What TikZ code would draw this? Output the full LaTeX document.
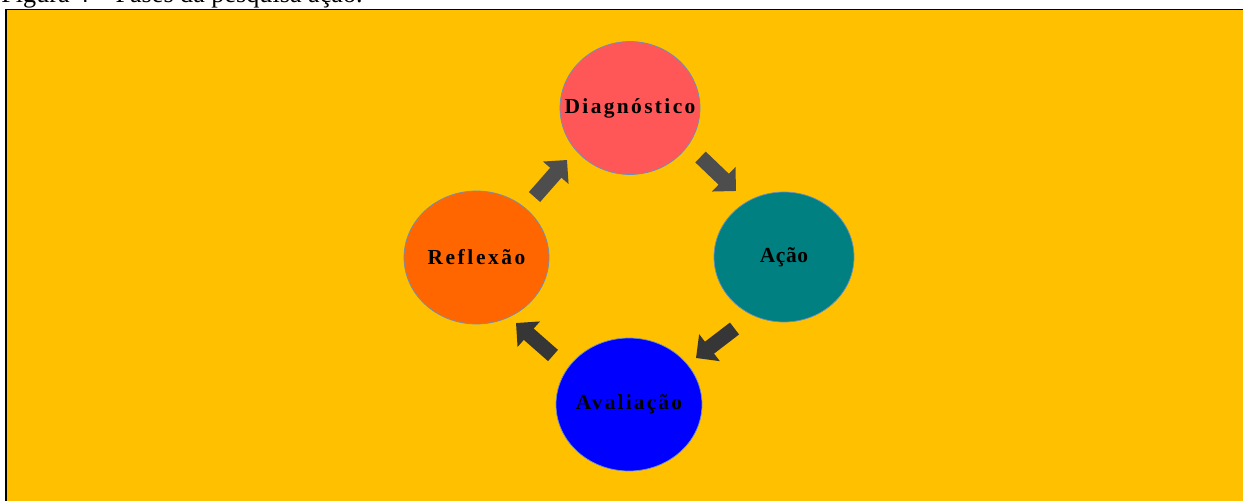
\documentclass[tikz,border=0pt]{standalone}
\usepackage{fontspec}
\setmainfont{Liberation Serif}
\usetikzlibrary{shapes.geometric,arrows.meta}

\definecolor{bgorange}{RGB}{255,192,0}
\definecolor{edgeblue}{RGB}{108,142,191}
\definecolor{diagred}{RGB}{255,87,87}
\definecolor{reflorange}{RGB}{255,102,0}
\definecolor{acaoteal}{RGB}{0,128,128}
\definecolor{avalblue}{RGB}{0,0,255}
\definecolor{arrowgray}{RGB}{77,77,77}
\definecolor{arrowdark}{RGB}{54,54,54}

\tikzset{
  phase/.style={ellipse, draw=edgeblue, line width=0.4pt, inner sep=-1cm,
    font=\bfseries\fontsize{12.2}{14}\selectfont},
  blockarrow/.style={line width=0.3cm, -{Triangle[width=0.66cm,length=0.34cm]}},
}

\begin{document}
\begin{tikzpicture}[x=0.02cm,y=-0.02cm]
\useasboundingbox (0,0) rectangle (1243,500);
\fill[white] (0,0) rectangle (1243,500);

% caption, cut off at the top
\node[anchor=base west, inner sep=0pt, font=\fontsize{14.9}{17}\selectfont] (caption) at (1,3) {Figura 4 – Fases da pesquisa ação.};

% frame
\draw[fill=bgorange, line width=0.035cm] (6,9.5) rectangle (1270,520);

% phases
\node[phase, fill=diagred, minimum width=2.8cm, minimum height=2.66cm] (diag) at (630,108)
  {\addfontfeature{LetterSpace=11}Diagnóstico};
\node[phase, fill=reflorange, minimum width=2.9cm, minimum height=2.66cm] (refl) at (476.5,257.5)
  {\addfontfeature{LetterSpace=12}Reflexão};
\node[phase, fill=acaoteal, minimum width=2.8cm, minimum height=2.6cm] (acao) at (784,257)
  {\addfontfeature{LetterSpace=3}Ação};
\node[phase, fill=avalblue, minimum width=2.92cm, minimum height=2.66cm] (aval) at (629,404.5)
  {\addfontfeature{LetterSpace=10}Avaliação};

% arrow ends
\coordinate (a1s) at (534.5,197);
\coordinate (a1e) at (567,160);
\coordinate (a2s) at (700.5,157);
\coordinate (a2e) at (736,191);
\coordinate (a3s) at (734.5,328.5);
\coordinate (a3e) at (696,358);
\coordinate (a4s) at (553,355.5);
\coordinate (a4e) at (516,323);

\draw[blockarrow, arrowgray] (a1s) -- (a1e);
\draw[blockarrow, arrowgray] (a2s) -- (a2e);
\draw[blockarrow, arrowdark] (a3s) -- (a3e);
\draw[blockarrow, arrowdark] (a4s) -- (a4e);
\end{tikzpicture}
\end{document}
